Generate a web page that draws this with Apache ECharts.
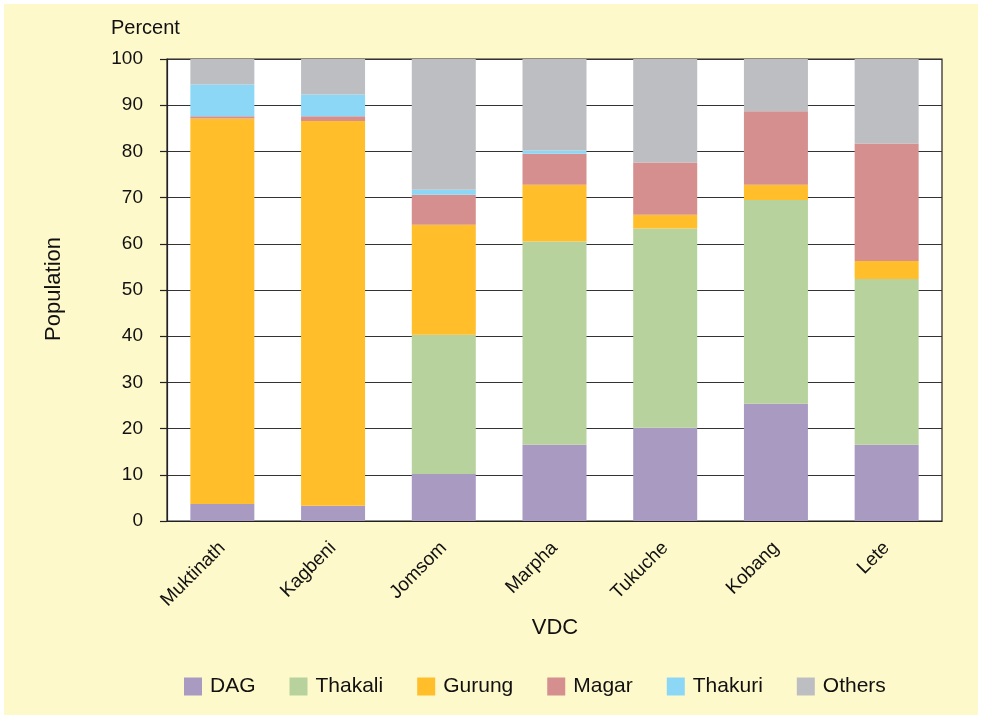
<!DOCTYPE html>
<html>
<head>
<meta charset="utf-8">
<script src="https://cdn.jsdelivr.net/npm/echarts@6/dist/echarts.min.js"></script>
<style>
html,body{margin:0;padding:0;background:#fff;}
#c{width:982px;height:719px;}
</style>
</head>
<body>
<div id="c"></div>
<script>
const categories = ['Muktinath','Kagbeni','Jomsom','Marpha','Tukuche','Kobang','Lete'];
const seriesNames = ['DAG','Thakali','Gurung','Magar','Thakuri','Others'];
const DAG     = [3.7, 3.3, 10.2, 16.5, 20.2, 25.4, 16.5];
const Thakali = [0,   0,   30.1, 44.0, 43.1, 44.1, 35.9];
const Gurung  = [83.4,83.3,23.8, 12.3, 3.0,  3.3,  3.9];
const Magar   = [0.5, 1.0, 6.5,  6.7,  11.3, 15.9, 25.4];
const Thakuri = [6.9, 4.7, 1.1,  0.7,  0,    0,    0];
const Others  = [5.5, 7.7, 28.3, 19.8, 22.4, 11.3, 18.3];
const yTicks = [0,10,20,30,40,50,60,70,80,90,100];

const values = [DAG, Thakali, Gurung, Magar, Thakuri, Others];
const colors = ['#A99AC2','#B8D29E','#FFBE2A','#D48F8E','#8CD7F6','#BDBEC2'];
const font = 'Liberation Sans, Arial, sans-serif';

const chart = echarts.init(document.getElementById('c'));
chart.setOption({
  animation: false,
  backgroundColor: '#ffffff',
  textStyle: { fontFamily: font },
  graphic: [
    { type: 'rect', z: -10, shape: { x: 4, y: 4, width: 974, height: 711 }, style: { fill: '#FEF9CB' } },
    { type: 'text', left: 111, top: 18, style: { text: 'Percent', font: '20px ' + font, fill: '#111' } },
    { type: 'text', x: 54, y: 289, rotation: Math.PI / 2, style: { text: 'Population', font: '22px ' + font, fill: '#111', textAlign: 'center', textVerticalAlign: 'middle' } },
    { type: 'text', x: 555, y: 628, style: { text: 'VDC', font: '22px ' + font, fill: '#111', textAlign: 'center', textVerticalAlign: 'middle' } }
  ],
  grid: { left: 167, right: 40, top: 59, bottom: 198, show: true, backgroundColor: '#ffffff', borderColor: '#222', borderWidth: 1.2 },
  legend: {
    left: 179, top: 671,
    itemWidth: 18, itemHeight: 18, itemGap: 34,
    icon: 'rect',
    textStyle: { fontSize: 21, color: '#111', fontFamily: font, padding: [0, 0, 0, 3] },
    data: seriesNames
  },
  xAxis: {
    type: 'category', data: categories,
    axisLine: { lineStyle: { color: '#222', width: 1.2 } },
    axisTick: { show: false },
    axisLabel: { rotate: 45, fontSize: 19, color: '#111', margin: 24, fontFamily: font }
  },
  yAxis: {
    type: 'value', min: 0, max: 100, interval: 10,
    axisLine: { show: true, lineStyle: { color: '#222', width: 1.2 } },
    axisTick: { show: true, length: 7, lineStyle: { color: '#222', width: 1.2 } },
    axisLabel: { fontSize: 19, color: '#111', margin: 24, fontFamily: font,
      formatter: v => yTicks.includes(v) ? String(v) : '' },
    splitLine: { show: true, lineStyle: { color: '#333', width: 1.2 } }
  },
  series: seriesNames.map((n, i) => ({
    name: n, type: 'bar', stack: 'all', barWidth: 64,
    itemStyle: { color: colors[i] },
    data: values[i]
  }))
});
</script>
</body>
</html>
